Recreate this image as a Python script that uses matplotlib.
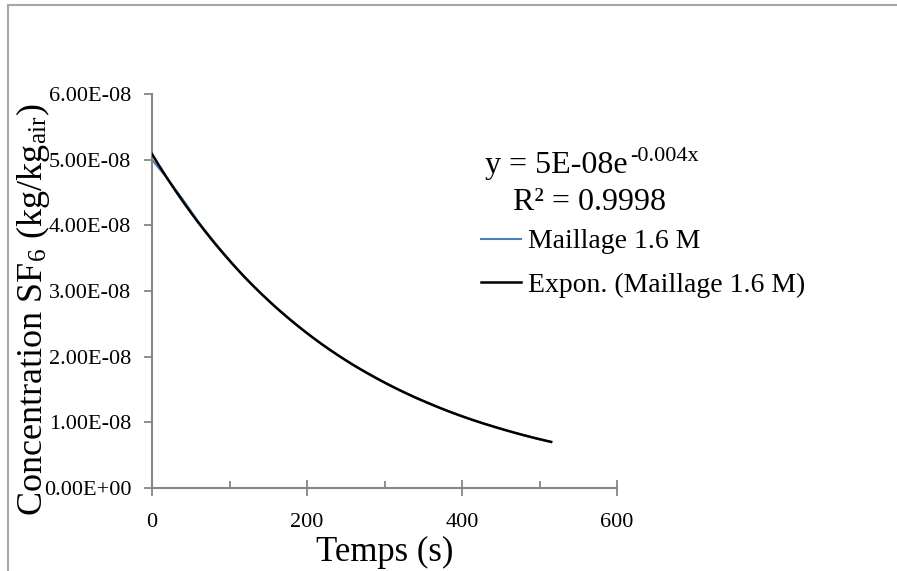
import matplotlib
matplotlib.use("Agg")
import matplotlib.pyplot as plt
import numpy as np
from matplotlib.ticker import FuncFormatter, MultipleLocator
from matplotlib.lines import Line2D

# Data (time in s, concentration in kg/kg_air)
temps = [0, 20, 40, 60, 80, 100, 120, 140, 160, 180, 200, 220, 240, 260, 280,
         300, 320, 340, 360, 380, 400, 420, 440, 460, 480, 500, 515]
concentration = [5.00e-8, 4.71e-8, 4.39e-8, 4.05e-8, 3.75e-8, 3.47e-8, 3.20e-8,
                 2.97e-8, 2.75e-8, 2.55e-8, 2.36e-8, 2.18e-8, 2.02e-8, 1.87e-8,
                 1.74e-8, 1.61e-8, 1.49e-8, 1.38e-8, 1.28e-8, 1.18e-8, 1.09e-8,
                 1.01e-8, 0.94e-8, 0.87e-8, 0.80e-8, 0.74e-8, 0.70e-8]
series_label = "Maillage 1.6 M"
trend_label = "Expon. (Maillage 1.6 M)"
equation_main = "y = 5E-08e"
equation_exp = "-0.004x"
r2_text = "R² = 0.9998"
x_label = "Temps (s)"
y_label = r"Concentration SF$_{\mathregular{6}}$ (kg/kg$_{\mathregular{air}}$)"

plt.rcParams["font.family"] = ["Liberation Serif", "DejaVu Serif"]
plt.rcParams["mathtext.fontset"] = "stix"

W, H = 897, 571
fig = plt.figure(figsize=(W / 100, H / 100), dpi=100)
fig.patch.set_facecolor("white")

# outer chart frame (only top and left visible in the crop)
frame_col = "#a6a6a6"
fig.add_artist(Line2D([8 / W, 1.0], [1 - 5 / H, 1 - 5 / H], color=frame_col, lw=1.5,
                      transform=fig.transFigure))
fig.add_artist(Line2D([8 / W, 8 / W], [0.0, 1 - 5 / H], color=frame_col, lw=1.5,
                      transform=fig.transFigure))

ax = fig.add_axes([152 / W, 1 - 488 / H, (617 - 152) / W, (488 - 94) / H])

t = np.array(temps, dtype=float)
c = np.array(concentration, dtype=float)
ax.plot(t, c, color="#4a7ebb", lw=1.5, label=series_label, zorder=2)

# exponential trendline (least squares on log values, as Excel does)
k, lnA = np.polyfit(t, np.log(c), 1)
tt = np.linspace(t.min(), t.max(), 300)
ax.plot(tt, np.exp(lnA) * np.exp(k * tt), color="black", lw=1.8, label=trend_label, zorder=3)

ax.set_xlim(0, 600)
ax.set_ylim(0, 6e-8)
ax.xaxis.set_major_locator(MultipleLocator(200))
ax.xaxis.set_minor_locator(MultipleLocator(100))
ax.yaxis.set_major_locator(MultipleLocator(1e-8))
ax.yaxis.set_major_formatter(FuncFormatter(lambda v, p: f"{v:.2E}"))

spine_col = "#868686"
for s in ["top", "right"]:
    ax.spines[s].set_visible(False)
for s in ["left", "bottom"]:
    ax.spines[s].set_color(spine_col)
    ax.spines[s].set_linewidth(1.5)

ax.tick_params(axis="x", which="major", direction="inout", length=12, width=1.3,
               color=spine_col, labelsize=16, pad=12)
ax.tick_params(axis="x", which="minor", direction="in", length=5, width=1.3,
               color=spine_col)
ax.tick_params(axis="y", which="major", direction="out", length=6, width=1.3,
               color=spine_col, labelsize=16, pad=9)

ax.set_xlabel(x_label, fontsize=25, labelpad=3)
fig.text(33 / W, 1 - 309 / H, y_label, rotation=90, ha="center", va="center",
         fontsize=26)

# trendline equation: main part plus a superscript exponent placed right after it
eq = fig.text(485 / W, 1 - 173 / H, equation_main, ha="left", va="baseline", fontsize=23)
fig.canvas.draw()
bb = eq.get_window_extent()
fig.text(bb.x1 / W + 2 / W, 1 - 161 / H, equation_exp, ha="left", va="baseline",
         fontsize=16)
fig.text(513 / W, 1 - 210 / H, r2_text, ha="left", va="baseline", fontsize=23)

ax.legend(loc="upper left", bbox_to_anchor=(481 / W, 1 - 229 / H),
          bbox_transform=fig.transFigure, frameon=False, fontsize=20,
          borderpad=0, borderaxespad=0, handlelength=1.45, handletextpad=0.25,
          labelspacing=0.65)

fig.savefig("out.png", dpi=100, facecolor="white")
